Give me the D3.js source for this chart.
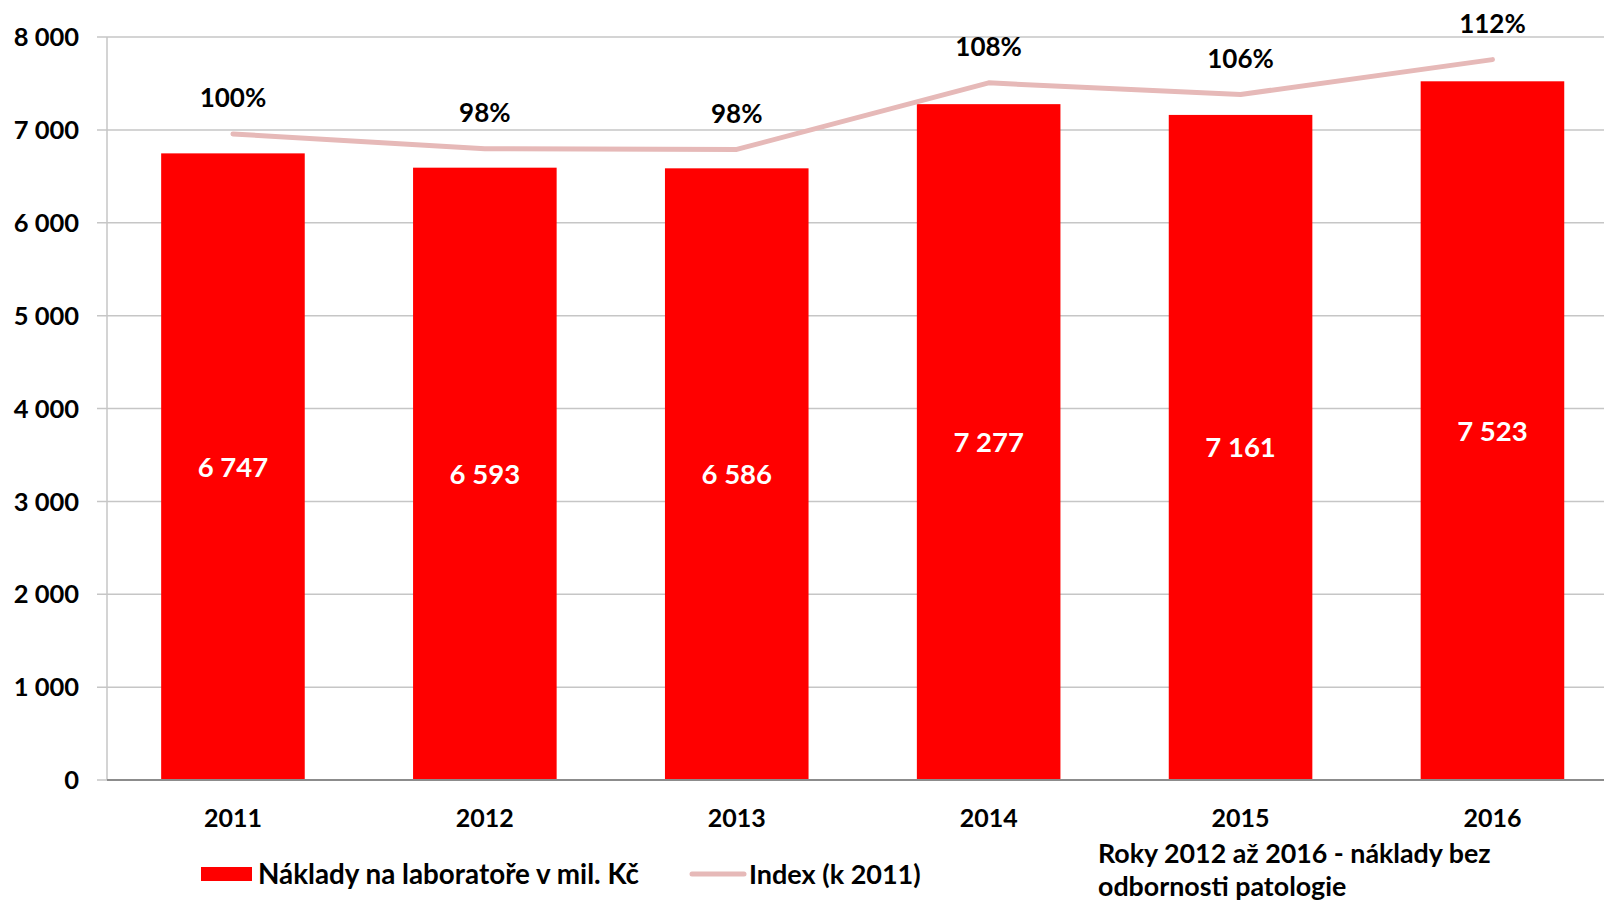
<!DOCTYPE html>
<html><head><meta charset="utf-8">
<script src="https://cdn.jsdelivr.net/npm/d3@7"></script>
<style>body{margin:0;background:#fff}svg{display:block}text{font-family:Lato,"Open Sans",sans-serif;font-weight:bold}</style>
</head><body>
<svg id="c" width="1604" height="905"></svg>
<script>
const years = ["2011","2012","2013","2014","2015","2016"];
const costs = [6747, 6593, 6586, 7277, 7161, 7523];
const indexVals = [1.00, 0.977, 0.976, 1.079, 1.061, 1.115];
const indexLabels = ["100%","98%","98%","108%","106%","112%"];
const yTicks = [0,1000,2000,3000,4000,5000,6000,7000,8000];
const legendBar = "Náklady na laboratoře v mil. Kč";
const legendLine = "Index (k 2011)";
const noteLines = ["Roky 2012 až 2016 - náklady bez","odbornosti patologie"];

const svg = d3.select("#c");
const plotLeft = 107, plotTop = 37, plotBottom = 780, band = 251.9;
const x = d3.scaleBand().domain(years).range([plotLeft, plotLeft + band*years.length]).paddingInner(0.43).paddingOuter(0.215);
const y = d3.scaleLinear().domain([0,8000]).range([plotBottom, plotTop]);
const y2 = d3.scaleLinear().domain([0,1.15]).range([plotBottom, plotTop]);
const fmt = v => d3.format(",")(v).replace(/,/g," ");

// gridlines
svg.append("g").selectAll("line").data(yTicks.filter(d=>d>0)).join("line")
  .attr("x1", 97).attr("x2", 1604).attr("y1", d=>y(d)).attr("y2", d=>y(d))
  .attr("stroke","#c6c6c6").attr("stroke-width",1.5);
// left axis
svg.append("line").attr("x1",plotLeft).attr("x2",plotLeft).attr("y1",plotTop).attr("y2",plotBottom).attr("stroke","#c6c6c6").attr("stroke-width",1.5);
svg.append("line").attr("x1",97).attr("x2",plotLeft).attr("y1",plotBottom).attr("y2",plotBottom).attr("stroke","#c6c6c6").attr("stroke-width",1.5);
// y labels
svg.append("g").selectAll("text").data(yTicks).join("text")
  .attr("x", 79).attr("y", d=>y(d)).attr("dy","0.36em").attr("text-anchor","end")
  .attr("font-size",25.5).attr("fill","#000").text(d=>fmt(d));

// bars
svg.append("g").selectAll("rect").data(costs).join("rect")
  .attr("x",(d,i)=>x(years[i])).attr("width",x.bandwidth())
  .attr("y",d=>y(d)).attr("height",d=>plotBottom-y(d)).attr("fill","#ff0000");
// bottom axis
svg.append("line").attr("x1",plotLeft).attr("x2",1604).attr("y1",plotBottom).attr("y2",plotBottom).attr("stroke","#8c8c8c").attr("stroke-width",2);
// bar labels
svg.append("g").selectAll("text").data(costs).join("text")
  .attr("x",(d,i)=>x(years[i])+x.bandwidth()/2).attr("y",d=>(y(d)+plotBottom)/2).attr("dy","0.36em")
  .attr("text-anchor","middle").attr("font-size",27.5).attr("fill","#fff").text(d=>fmt(d));
// x labels
svg.append("g").selectAll("text").data(years).join("text")
  .attr("x",d=>x(d)+x.bandwidth()/2).attr("y",818).attr("dy","0.36em")
  .attr("text-anchor","middle").attr("font-size",25).attr("fill","#000").text(d=>d);

// line
const cx = (i)=>x(years[i])+x.bandwidth()/2;
svg.append("path").datum(indexVals)
  .attr("d", d3.line().x((d,i)=>cx(i)).y(d=>y2(d)))
  .attr("fill","none").attr("stroke","#e6b9b8").attr("stroke-width",5).attr("stroke-linecap","round").attr("stroke-linejoin","round");
svg.append("g").selectAll("text").data(indexVals).join("text")
  .attr("x",(d,i)=>cx(i)).attr("y",d=>y2(d)-36).attr("dy","0.36em")
  .attr("text-anchor","middle").attr("font-size",26).attr("fill","#000").text((d,i)=>indexLabels[i]);

// legend
const ly = 874;
svg.append("rect").attr("x",201).attr("y",ly-7).attr("width",51).attr("height",14).attr("fill","#ff0000");
svg.append("text").attr("x",258).attr("y",ly).attr("dy","0.36em").attr("font-size",27.8).text(legendBar);
svg.append("line").attr("x1",692).attr("x2",744).attr("y1",ly).attr("y2",ly).attr("stroke","#e6b9b8").attr("stroke-width",5).attr("stroke-linecap","round");
svg.append("text").attr("x",749).attr("y",ly).attr("dy","0.36em").attr("font-size",27).text(legendLine);
svg.append("g").selectAll("text").data(noteLines).join("text")
  .attr("x",1098).attr("y",(d,i)=>853+i*33).attr("dy","0.36em").attr("font-size",26.8).text(d=>d);
</script>
</body></html>
